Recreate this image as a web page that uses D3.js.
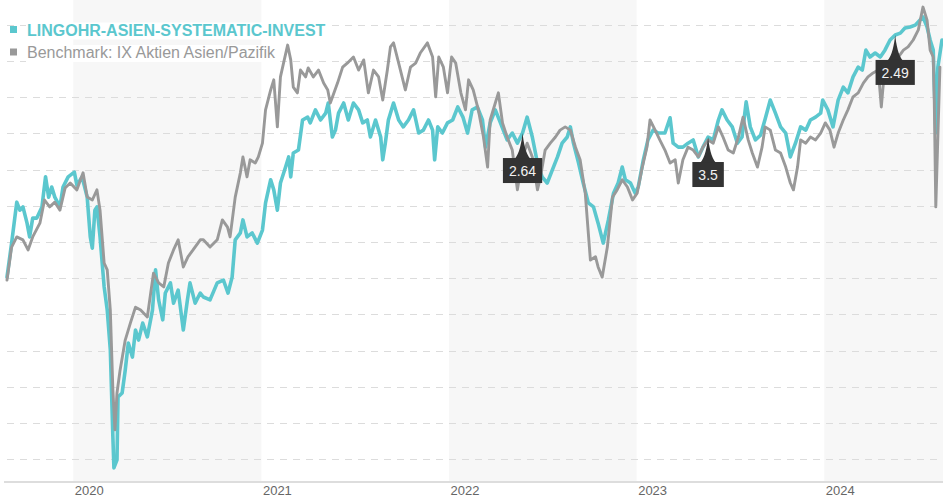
<!DOCTYPE html>
<html>
<head>
<meta charset="utf-8">
<title>LINGOHR-ASIEN-SYSTEMATIC-INVEST vs. Benchmark</title>
<script src="https://d3js.org/d3.v7.min.js"></script>
<style>
  body { margin: 0; background: #fff; }
  svg { display: block; font-family: "Liberation Sans", Arial, sans-serif; }
</style>
</head>
<body>
<div id="chart"></div>
<script>
// Fund and benchmark, indexed
const fund = [
  ["2019-08-25",100.3],["2019-09-03",109.7],["2019-09-13",121.0],["2019-09-19",118.8],["2019-09-25",119.7],
  ["2019-10-03",115.2],["2019-10-08",111.4],["2019-10-14",116.6],["2019-10-22",116.6],["2019-11-01",119.7],
  ["2019-11-08",128.0],["2019-11-14",122.4],["2019-11-20",125.2],["2019-11-26",122.4],["2019-12-06",119.7],
  ["2019-12-12",125.2],["2019-12-22",128.0],["2020-01-03",129.3],["2020-01-08",125.7],["2020-01-18",128.0],
  ["2020-01-28",122.4],["2020-02-03",111.4],["2020-02-07",108.3],["2020-02-12",118.8],["2020-02-16",119.7],
  ["2020-02-22",111.4],["2020-03-01",97.6],["2020-03-07",91.2],["2020-03-13",80.2],["2020-03-18",56.1],
  ["2020-03-20",47.6],["2020-03-26",49.8],["2020-03-28",67.2],["2020-04-05",68.3],["2020-04-11",74.6],
  ["2020-04-17",82.1],["2020-04-25",78.2],["2020-05-01",85.7],["2020-05-07",82.9],["2020-05-15",87.6],
  ["2020-05-24",83.8],["2020-06-03",91.2],["2020-06-09",102.3],["2020-06-15",94.0],["2020-06-23",88.5],
  ["2020-06-28",95.9],["2020-07-08",98.7],["2020-07-14",93.1],["2020-07-23",96.7],["2020-08-02",85.7],
  ["2020-08-10",94.0],["2020-08-15",98.7],["2020-08-25",93.1],["2020-09-04",95.9],["2020-09-10",94.8],
  ["2020-09-23",94.0],["2020-10-07",98.7],["2020-10-19",99.5],["2020-10-28",95.9],["2020-11-05",100.3],
  ["2020-11-11",110.6],["2020-11-21",112.5],["2020-11-26",116.1],["2020-12-04",111.4],["2020-12-14",112.5],
  ["2020-12-24",109.7],["2021-01-03",113.3],["2021-01-09",120.8],["2021-01-19",127.2],["2021-01-25",124.4],
  ["2021-02-01",118.8],["2021-02-07",126.3],["2021-02-17",130.7],["2021-02-23",133.5],["2021-02-27",128.0],
  ["2021-03-04",134.6],["2021-03-14",135.4],["2021-03-22",143.7],["2021-04-01",144.5],["2021-04-06",142.9],
  ["2021-04-16",146.5],["2021-04-26",143.7],["2021-05-06",145.6],["2021-05-11",148.4],["2021-05-19",139.0],
  ["2021-05-25",140.9],["2021-05-31",145.6],["2021-06-10",148.4],["2021-06-19",143.7],["2021-06-29",148.4],
  ["2021-07-09",146.5],["2021-07-17",142.9],["2021-07-26",143.7],["2021-08-01",139.0],["2021-08-11",143.7],
  ["2021-08-21",139.0],["2021-08-25",132.7],["2021-08-30",137.3],["2021-09-05",143.7],["2021-09-15",148.4],
  ["2021-09-25",143.7],["2021-10-04",141.8],["2021-10-14",143.7],["2021-10-24",146.5],["2021-11-03",140.1],
  ["2021-11-12",140.9],["2021-11-22",143.7],["2021-11-30",140.9],["2021-12-04",132.7],["2021-12-10",141.8],
  ["2021-12-19",140.1],["2021-12-29",142.9],["2022-01-08",143.7],["2022-01-18",147.3],["2022-01-28",144.5],
  ["2022-02-06",140.1],["2022-02-15",146.5],["2022-02-25",147.3],["2022-03-07",143.7],["2022-03-13",136.2],
  ["2022-03-22",142.9],["2022-04-01",146.5],["2022-04-11",142.9],["2022-04-24",138.2],["2022-05-04",140.1],
  ["2022-05-14",137.3],["2022-05-24",140.1],["2022-06-02",144.5],["2022-06-12",139.0],["2022-06-22",131.8],
  ["2022-07-01",128.0],["2022-07-11",126.3],["2022-07-21",129.9],["2022-07-31",133.5],["2022-08-09",137.3],
  ["2022-08-19",139.0],["2022-08-25",141.8],["2022-08-31",137.3],["2022-09-10",131.8],["2022-09-19",126.3],
  ["2022-09-29",120.8],["2022-10-09",119.7],["2022-10-18",115.2],["2022-10-28",109.7],["2022-11-07",116.1],
  ["2022-11-17",123.5],["2022-11-26",126.3],["2022-12-04",130.7],["2022-12-10",127.2],["2022-12-20",126.3],
  ["2022-12-29",123.5],["2023-01-04",125.2],["2023-01-14",132.7],["2023-01-23",138.2],["2023-02-02",140.9],
  ["2023-02-12",140.1],["2023-02-25",140.1],["2023-03-07",144.3],["2023-03-13",137.3],["2023-03-23",136.2],
  ["2023-04-01",136.2],["2023-04-11",137.3],["2023-04-21",138.2],["2023-05-01",133.5],["2023-05-10",136.2],
  ["2023-05-20",139.0],["2023-05-30",138.2],["2023-06-09",143.7],["2023-06-16",146.5],["2023-06-26",143.7],
  ["2023-07-06",141.8],["2023-07-16",137.3],["2023-07-25",139.0],["2023-08-02",148.7],["2023-08-10",141.8],
  ["2023-08-20",138.2],["2023-08-30",139.5],["2023-09-08",144.0],["2023-09-18",149.2],["2023-09-28",145.6],
  ["2023-10-08",141.8],["2023-10-18",140.1],["2023-10-27",133.5],["2023-11-06",137.3],["2023-11-16",141.8],
  ["2023-11-26",140.9],["2023-12-05",143.7],["2023-12-15",144.5],["2023-12-25",145.6],["2023-12-29",149.2],
  ["2024-01-08",146.5],["2024-01-18",141.8],["2024-01-28",149.2],["2024-02-07",152.8],["2024-02-16",151.2],
  ["2024-02-26",155.6],["2024-03-07",158.3],["2024-03-15",157.5],["2024-03-22",163.0],["2024-03-30",161.1],
  ["2024-04-09",162.2],["2024-04-19",161.1],["2024-04-28",163.0],["2024-05-08",165.8],["2024-05-18",167.2],
  ["2024-05-28",167.7],["2024-06-06",169.1],["2024-06-16",169.4],["2024-06-26",169.9],["2024-07-05",171.3],
  ["2024-07-11",172.2],["2024-07-19",169.4],["2024-07-25",165.8],["2024-07-31",163.0],["2024-08-05",140.1],
  ["2024-08-09",158.3],["2024-08-17",165.8]
];

const benchmark = [
  ["2019-08-25",99.5],["2019-09-03",108.6],["2019-09-13",111.4],["2019-09-25",110.6],["2019-10-05",107.8],
  ["2019-10-14",111.4],["2019-10-28",115.2],["2019-11-06",121.6],["2019-11-16",119.7],["2019-11-26",121.0],
  ["2019-12-06",118.8],["2019-12-16",124.9],["2019-12-26",126.3],["2020-01-08",124.4],["2020-01-20",129.1],
  ["2020-01-28",122.4],["2020-02-07",121.6],["2020-02-16",124.4],["2020-02-22",118.8],["2020-03-01",104.2],
  ["2020-03-07",102.3],["2020-03-13",91.2],["2020-03-18",69.1],["2020-03-22",58.1],["2020-03-26",68.3],
  ["2020-04-01",74.6],["2020-04-11",82.9],["2020-04-21",87.6],["2020-05-01",92.0],["2020-05-11",91.2],
  ["2020-05-24",89.3],["2020-06-05",101.4],["2020-06-15",98.7],["2020-06-25",97.6],["2020-07-04",104.2],
  ["2020-07-14",107.8],["2020-07-23",110.6],["2020-08-02",103.1],["2020-08-11",105.9],["2020-08-21",107.8],
  ["2020-09-04",110.6],["2020-09-10",110.6],["2020-09-23",108.6],["2020-10-07",110.6],["2020-10-17",116.1],
  ["2020-10-27",114.1],["2020-11-01",111.4],["2020-11-11",122.4],["2020-11-21",129.1],["2020-11-26",133.5],
  ["2020-12-04",128.0],["2020-12-10",132.7],["2020-12-20",131.8],["2020-12-26",133.5],["2021-01-03",137.3],
  ["2021-01-09",146.5],["2021-01-19",152.0],["2021-01-25",154.8],["2021-02-01",141.8],["2021-02-07",155.6],
  ["2021-02-13",159.4],["2021-02-21",164.4],["2021-02-27",160.3],["2021-03-04",152.8],["2021-03-12",151.2],
  ["2021-03-18",157.5],["2021-03-28",155.6],["2021-04-02",158.1],["2021-04-12",155.6],["2021-04-22",157.5],
  ["2021-05-02",153.9],["2021-05-10",152.0],["2021-05-15",148.4],["2021-05-29",153.9],["2021-06-08",158.3],
  ["2021-06-17",159.4],["2021-06-29",161.1],["2021-07-09",157.5],["2021-07-19",160.3],["2021-07-28",151.2],
  ["2021-08-07",157.5],["2021-08-17",155.6],["2021-08-25",149.2],["2021-09-03",157.5],["2021-09-09",163.9],
  ["2021-09-15",165.0],["2021-09-25",159.4],["2021-10-08",152.0],["2021-10-18",158.3],["2021-10-28",159.4],
  ["2021-11-06",162.2],["2021-11-20",165.0],["2021-11-30",161.1],["2021-12-06",150.1],["2021-12-12",161.1],
  ["2021-12-21",158.3],["2021-12-29",151.2],["2022-01-06",161.1],["2022-01-14",159.4],["2022-01-24",151.2],
  ["2022-02-02",146.5],["2022-02-08",154.8],["2022-02-17",152.0],["2022-02-27",146.5],["2022-03-09",139.0],
  ["2022-03-17",130.7],["2022-03-22",143.7],["2022-04-01",148.4],["2022-04-07",151.2],["2022-04-15",142.9],
  ["2022-04-24",139.0],["2022-05-04",135.4],["2022-05-14",124.4],["2022-05-24",133.5],["2022-06-02",137.3],
  ["2022-06-12",133.5],["2022-06-22",124.4],["2022-06-28",128.0],["2022-07-07",135.4],["2022-07-17",137.3],
  ["2022-07-27",139.0],["2022-08-05",140.9],["2022-08-15",141.8],["2022-08-25",140.9],["2022-09-04",136.2],
  ["2022-09-13",132.7],["2022-09-23",123.5],["2022-10-03",105.0],["2022-10-13",105.9],["2022-10-18",103.1],
  ["2022-10-26",100.3],["2022-11-05",108.6],["2022-11-15",122.4],["2022-11-24",124.4],["2022-12-04",127.2],
  ["2022-12-14",125.2],["2022-12-24",121.6],["2023-01-02",123.5],["2023-01-12",130.7],["2023-01-21",136.2],
  ["2023-01-27",143.7],["2023-02-06",140.9],["2023-02-15",138.2],["2023-02-25",135.4],["2023-03-07",131.8],
  ["2023-03-17",132.7],["2023-03-23",126.3],["2023-04-01",132.7],["2023-04-11",136.2],["2023-04-21",135.4],
  ["2023-05-01",133.5],["2023-05-10",136.2],["2023-05-20",138.2],["2023-05-30",137.3],["2023-06-09",141.8],
  ["2023-06-18",139.0],["2023-06-28",135.4],["2023-07-08",134.6],["2023-07-18",139.0],["2023-07-27",144.5],
  ["2023-08-06",138.2],["2023-08-14",134.6],["2023-08-24",130.7],["2023-09-02",136.2],["2023-09-08",141.8],
  ["2023-09-18",140.9],["2023-09-28",135.4],["2023-10-08",134.6],["2023-10-18",130.7],["2023-10-27",126.3],
  ["2023-11-02",124.4],["2023-11-10",130.7],["2023-11-16",138.2],["2023-11-26",137.3],["2023-12-05",139.0],
  ["2023-12-15",138.2],["2023-12-25",140.1],["2024-01-03",142.9],["2024-01-12",140.9],["2024-01-20",136.2],
  ["2024-01-28",140.1],["2024-02-07",143.7],["2024-02-16",146.5],["2024-02-26",150.1],["2024-03-07",151.2],
  ["2024-03-17",153.9],["2024-03-26",155.6],["2024-04-05",156.7],["2024-04-15",157.5],["2024-04-21",147.3],
  ["2024-04-25",153.9],["2024-05-04",158.3],["2024-05-14",161.1],["2024-05-24",161.1],["2024-06-03",163.0],
  ["2024-06-12",163.9],["2024-06-22",165.8],["2024-07-02",168.6],["2024-07-11",174.9],["2024-07-19",171.3],
  ["2024-07-25",163.0],["2024-07-31",161.1],["2024-08-02",149.2],["2024-08-05",119.7],["2024-08-13",158.3]
];

const seriesNames = ["LINGOHR-ASIEN-SYSTEMATIC-INVEST", "Benchmark: IX Aktien Asien/Pazifik"];
const seriesColors = ["#5bc7ce", "#999999"];
const yearLabels = ["2020", "2021", "2022", "2023", "2024"];
const shadedYears = ["2020", "2022", "2024"];
const flagDates = ["2022-05-24", "2023-05-20", "2024-05-18"];
const flagLabels = ["2.64", "3.5", "2.49"];
const gridValues = [50, 60, 70, 80, 90, 100, 110, 120, 130, 140, 150, 160, 170];

const width = 943, height = 500;
const plot = {left: 7, right: 943, top: 0, bottom: 482};
const parse = d3.timeParse("%Y-%m-%d");

const svg = d3.select("#chart").append("svg")
    .attr("width", width)
    .attr("height", height);

const x = d3.scaleTime()
    .domain([parse("2019-08-25"), parse("2024-08-19")])
    .range([plot.left, plot.right]);

const y = d3.scaleLinear()
    .domain([43.7, 176.85])
    .range([plot.bottom, plot.top]);

// shaded year bands
svg.append("g").selectAll("rect")
    .data(shadedYears)
    .join("rect")
    .attr("x", d => x(parse(d + "-01-01")))
    .attr("y", plot.top)
    .attr("width", d => Math.min(plot.right, x(parse((+d + 1) + "-01-01"))) - x(parse(d + "-01-01")))
    .attr("height", plot.bottom - plot.top)
    .attr("fill", "#f7f7f7");

// dashed grid lines
svg.append("g").selectAll("line")
    .data(gridValues)
    .join("line")
    .attr("x1", plot.left)
    .attr("x2", plot.right)
    .attr("y1", d => Math.round(y(d)) + 0.5)
    .attr("y2", d => Math.round(y(d)) + 0.5)
    .attr("stroke", "#dcdcdc")
    .attr("stroke-dasharray", "7,6");

// x axis
const xAxis = d3.axisBottom(x)
    .tickValues(yearLabels.map(d => parse(d + "-01-01")))
    .tickFormat(d3.timeFormat("%Y"))
    .tickSize(0)
    .tickPadding(0);

const axisG = svg.append("g")
    .attr("transform", `translate(0, ${plot.bottom})`)
    .call(xAxis);
axisG.select(".domain")
    .attr("d", `M${plot.left - 3},0H${plot.right}`)
    .attr("stroke", "#dddddd")
    .attr("stroke-width", 2);
axisG.selectAll(".tick text")
    .attr("text-anchor", "start")
    .attr("x", 1)
    .attr("y", 13)
    .attr("dy", 0)
    .attr("fill", "#666")
    .style("font-size", "13px")
    .style("font-family", "'Liberation Sans', Arial, sans-serif");

// lines
const line = d3.line()
    .x(d => x(parse(d[0])))
    .y(d => y(d[1]));

[fund, benchmark].forEach((series, i) => {
  svg.append("path")
      .datum(series)
      .attr("fill", "none")
      .attr("stroke", seriesColors[i])
      .attr("stroke-width", i === 0 ? 3.6 : 2.9)
      .attr("stroke-linejoin", "round")
      .attr("stroke-linecap", "round")
      .attr("d", line);
});

// distribution flags on the fund line
const bisect = d3.bisector(d => parse(d[0])).center;
flagDates.forEach((fd, i) => {
  const pt = fund[bisect(fund, parse(fd))];
  const cx = x(parse(fd));
  const tip = y(pt[1]);
  const boxTop = tip + 25;
  const g = svg.append("g");
  const label = g.append("text")
      .attr("x", cx)
      .attr("y", boxTop + 18)
      .attr("text-anchor", "middle")
      .attr("fill", "#f2f2f2")
      .style("font-size", "14px")
      .text(flagLabels[i]);
  const w = label.node().getComputedTextLength() + 12;
  g.insert("path", "text")
      .attr("d", `M${cx - 8},${boxTop + 1}C${cx - 3},${boxTop - 4} ${cx - 1},${tip + 9} ${cx},${tip}` +
                 `C${cx + 1},${tip + 9} ${cx + 3},${boxTop - 4} ${cx + 8},${boxTop + 1}Z`)
      .attr("fill", "#333");
  g.insert("rect", "text")
      .attr("x", cx - w / 2)
      .attr("y", boxTop)
      .attr("width", w)
      .attr("height", 25)
      .attr("fill", "#333");
});

// legend
const legend = svg.append("g");
seriesNames.forEach((name, i) => {
  const ly = 35.5 + i * 22.5;
  const t = legend.append("text")
      .attr("x", 27)
      .attr("y", ly)
      .attr("fill", seriesColors[i])
      .style("font-size", "16px")
      .style("font-weight", i === 0 ? "bold" : "normal")
      .text(name);
  const bb = t.node().getBBox();
  legend.insert("rect", "text")
      .attr("x", bb.x - 1)
      .attr("y", ly - 13)
      .attr("width", bb.width + 2)
      .attr("height", 17)
      .attr("fill", "#fff");
  legend.append("rect")
      .attr("x", 10)
      .attr("y", ly - 9.5)
      .attr("width", 7)
      .attr("height", 7)
      .attr("fill", seriesColors[i]);
});
</script>
</body>
</html>
